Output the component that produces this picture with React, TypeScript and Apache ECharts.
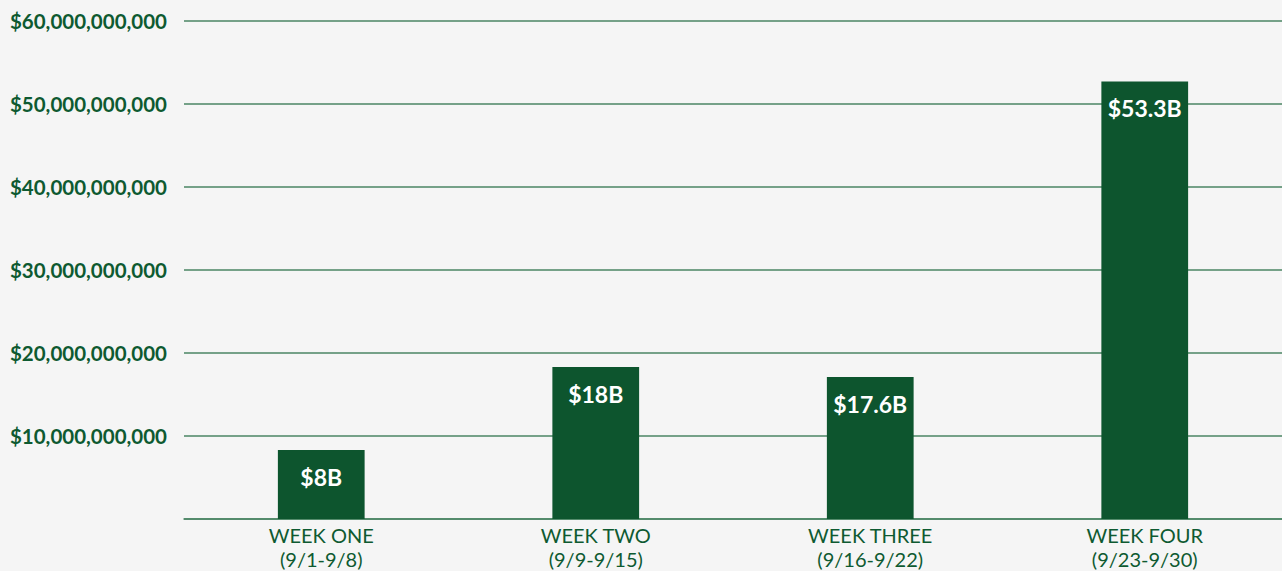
import React, { useEffect, useRef } from "react";
import * as echarts from "echarts";

const categories = ["WEEK ONE\n(9/1-9/8)", "WEEK TWO\n(9/9-9/15)", "WEEK THREE\n(9/16-9/22)", "WEEK FOUR\n(9/23-9/30)"];
const values = [8.3e9, 18.3e9, 17.1e9, 52.7e9];
const barLabels = ["$8B", "$18B", "$17.6B", "$53.3B"];
const yTicks = { min: 0, max: 60e9, interval: 10e9 };

const GREEN = "#0d552e";
const TEXT = "#0e5a31";
const GRIDC = "#4a8463";
const FONT = "Lato, 'Open Sans', sans-serif";

export default function App() {
  const ref = useRef<HTMLDivElement>(null);
  useEffect(() => {
    document.body.style.margin = "0";
    const chart = echarts.init(ref.current!, undefined, { renderer: "svg" });
    chart.setOption({
      animation: false,
      backgroundColor: "#f5f5f5",
      grid: { left: 184, right: -2, top: 21, bottom: 52, containLabel: false },
      xAxis: {
        type: "category",
        data: categories,
        axisLine: { show: true, lineStyle: { color: GRIDC, width: 1.5 } },
        axisTick: { show: false },
        axisLabel: {
          color: TEXT,
          fontFamily: FONT,
          fontSize: 20,
          lineHeight: 24,
          margin: 4,
          interval: 0,
        },
      },
      yAxis: {
        type: "value",
        min: yTicks.min,
        max: yTicks.max,
        interval: yTicks.interval,
        axisLine: { show: false },
        axisTick: { show: false },
        splitLine: { lineStyle: { color: GRIDC, width: 1.5 } },
        axisLabel: {
          color: TEXT,
          fontFamily: FONT,
          fontWeight: "bold",
          fontSize: 20.5,
          margin: 17,
          formatter: (v: number) => (v === 0 ? "" : "$" + v.toLocaleString("en-US")),
        },
      },
      series: [
        {
          type: "bar",
          data: values,
          barWidth: "31.6%",
          itemStyle: { color: GREEN },
          label: {
            show: true,
            position: "insideTop",
            distance: 15,
            color: "#ffffff",
            fontFamily: FONT,
            fontWeight: "bold",
            fontSize: 23,
            formatter: (p: any) => barLabels[p.dataIndex],
          },
        },
      ],
    });
    return () => chart.dispose();
  }, []);
  return <div ref={ref} style={{ position: "absolute", left: 0, top: 0, width: 1282, height: 571 }} />;
}
